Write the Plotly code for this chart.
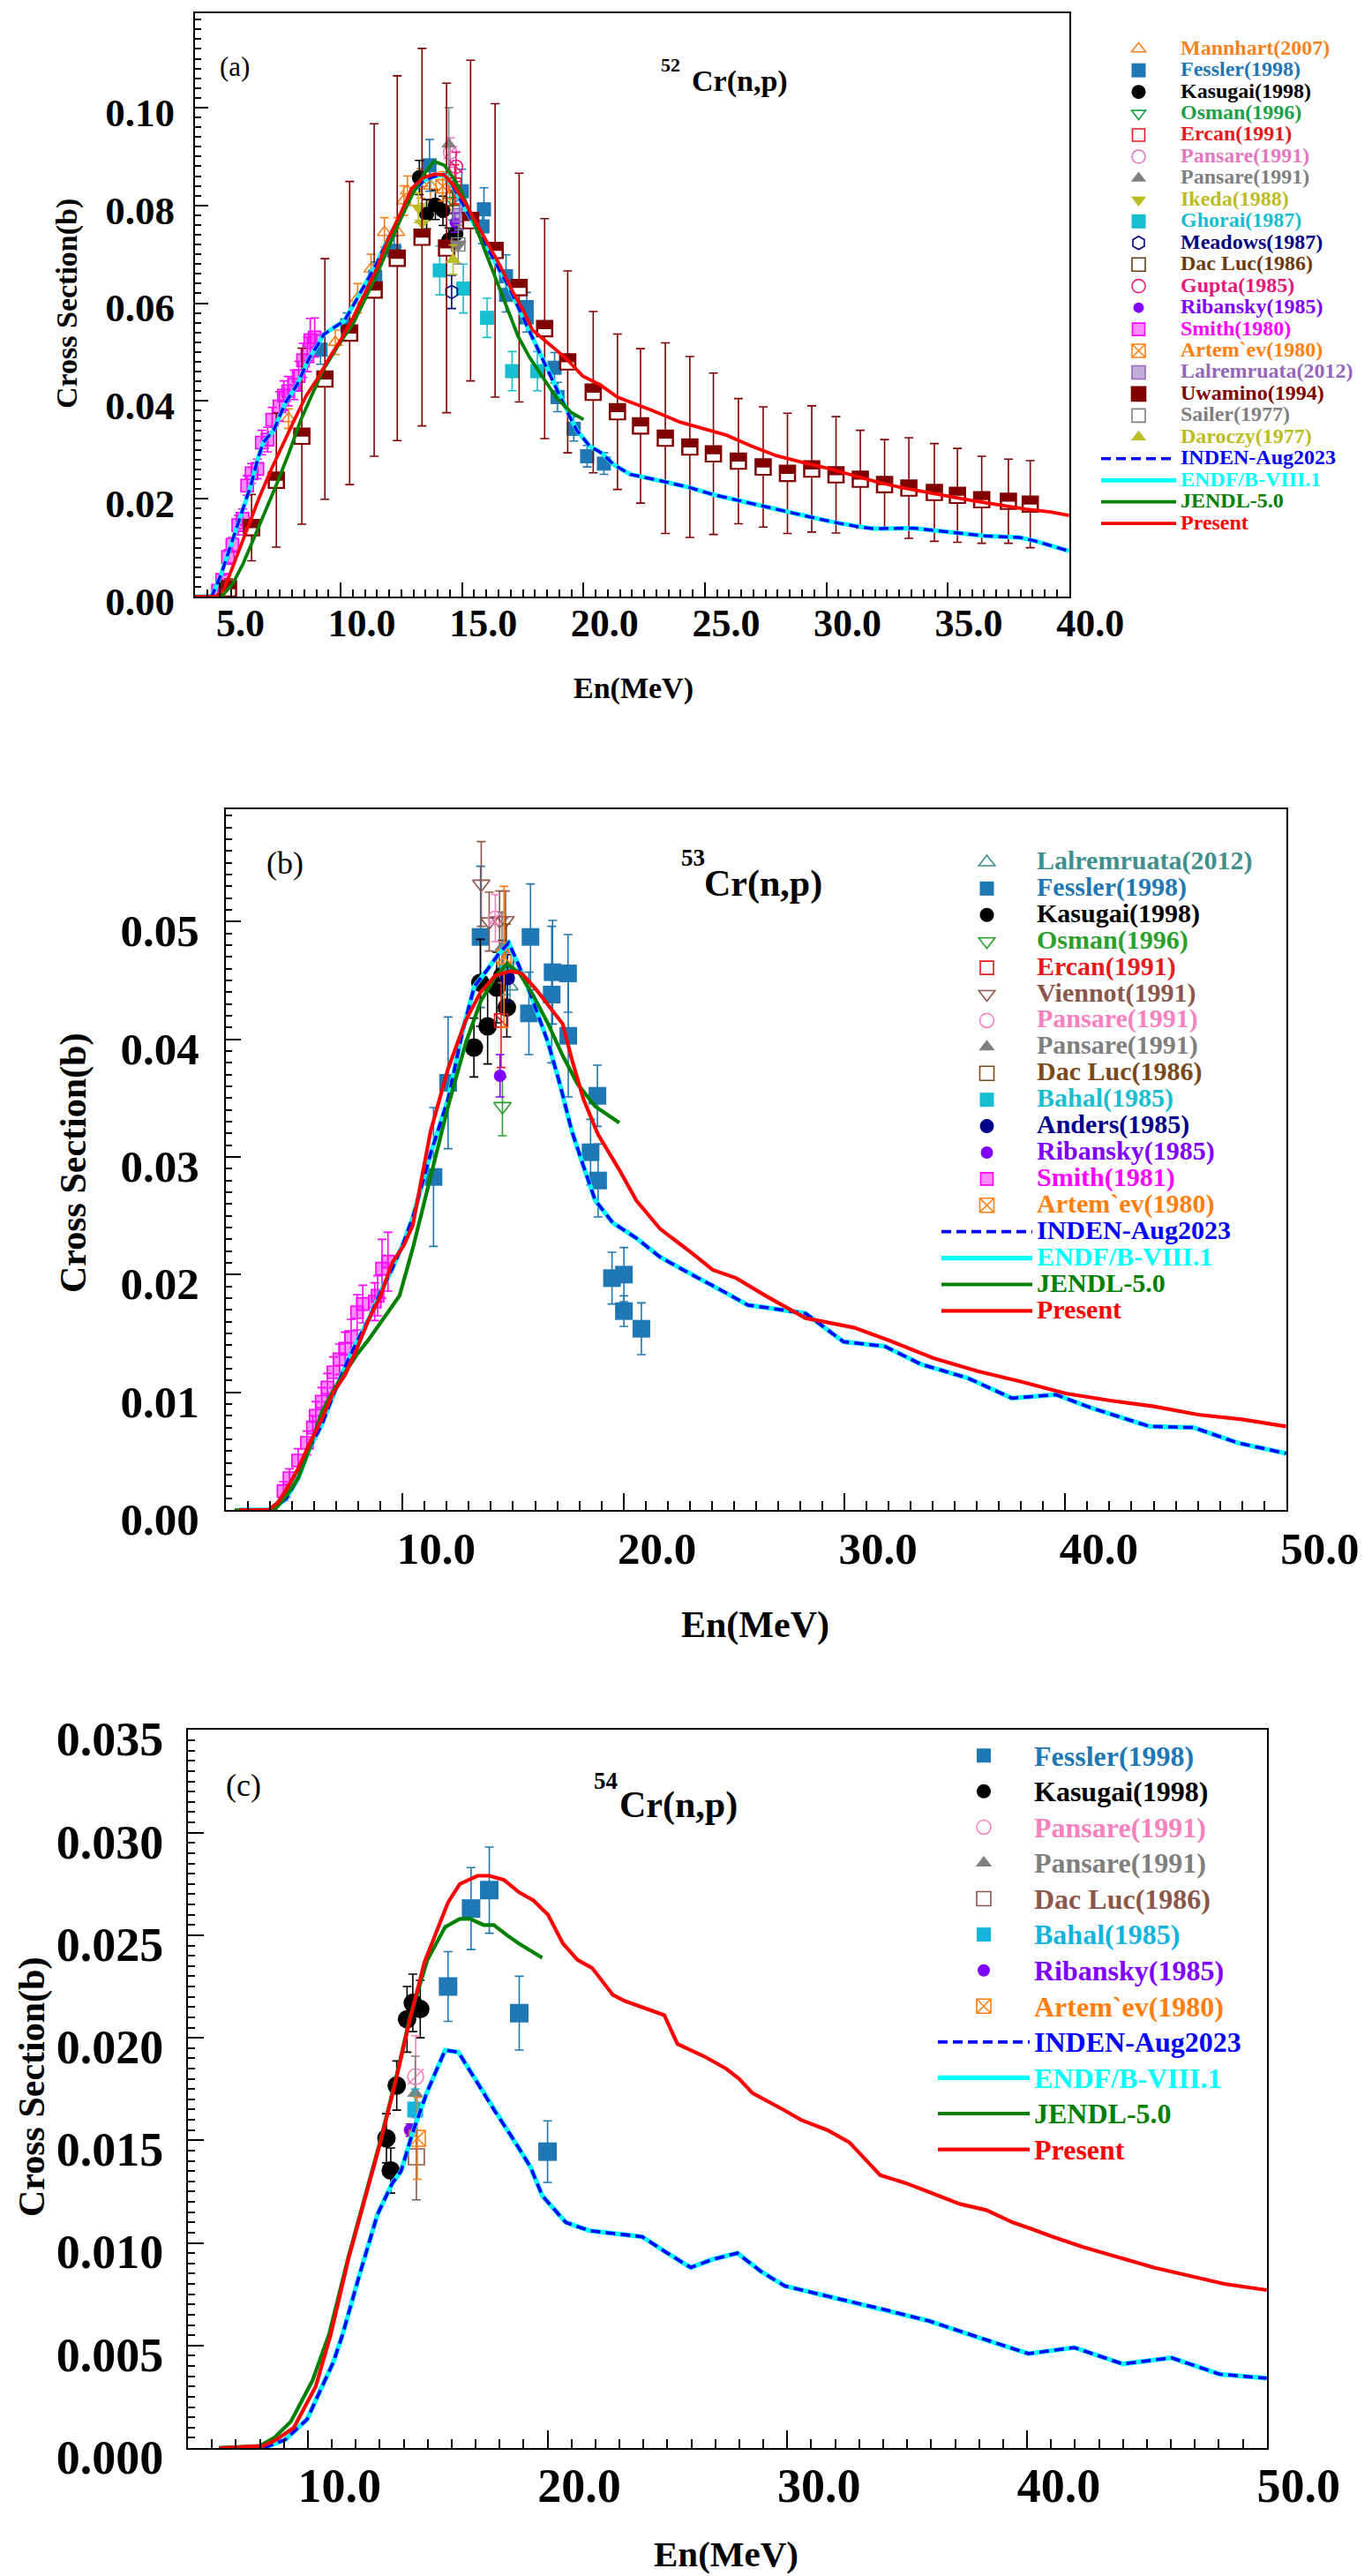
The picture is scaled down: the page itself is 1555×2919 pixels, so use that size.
import plotly.graph_objects as go

W, H = 1555, 2919
FONT = "Liberation Serif"

# ======================= Panel (a) 52Cr(n,p) =======================
a_mannhart_e = [7.85, 9.78, 10.7, 11.25, 11.8, 12.35, 12.6, 12.75, 13.3, 13.7, 14.5]
a_mannhart_s = [0.0364, 0.052, 0.061, 0.067, 0.0745, 0.0745, 0.081, 0.083, 0.0845, 0.084, 0.082]
a_mannhart_d = [0.002, 0.0025, 0.003, 0.003, 0.003, 0.003, 0.003, 0.003, 0.003, 0.003, 0.003]

a_fessler_e = [9.17, 10.27, 11.42, 12.2, 13.66, 14.99, 15.84, 15.9, 16.81, 16.81, 17.66, 17.66, 18.81, 18.93, 19.6, 20.15, 20.84]
a_fessler_s = [0.0505, 0.0555, 0.0654, 0.0707, 0.0882, 0.0829, 0.0757, 0.0792, 0.0655, 0.0617, 0.0592, 0.0571, 0.0468, 0.0408, 0.0343, 0.0287, 0.0272]
a_fessler_d = [0.003, 0.0025, 0.003, 0.003, 0.0053, 0.0045, 0.0035, 0.0044, 0.0044, 0.0035, 0.003, 0.003, 0.0031, 0.003, 0.0025, 0.0022, 0.0022]

a_kasugai_e = [13.24, 13.54, 13.9, 14.21, 14.45, 14.75]
a_kasugai_s = [0.0857, 0.0782, 0.0801, 0.0789, 0.0729, 0.0742]
a_kasugai_d = [0.0035, 0.003, 0.003, 0.003, 0.0025, 0.003]

a_osman_e, a_osman_s, a_osman_d = [14.6], [0.081], [0.004]
a_ercan_e, a_ercan_s, a_ercan_d = [14.7], [0.0843], [0.004]
a_pansare1_e, a_pansare1_s, a_pansare1_d = [14.51], [0.0908], [0.003]
a_pansare2_e, a_pansare2_s, a_pansare2_d = [14.45], [0.0925], [0.0075]
a_ikeda_e, a_ikeda_s, a_ikeda_d = [13.2, 13.35], [0.0795, 0.0764], [0.003, 0.004]
a_ghorai_e = [14.08, 15.05, 16.03, 17.06, 18.1]
a_ghorai_s = [0.0667, 0.063, 0.057, 0.0461, 0.0461]
a_ghorai_d = [0.005, 0.005, 0.004, 0.004, 0.004]
a_meadows_e, a_meadows_s, a_meadows_d = [14.57], [0.0623], [0.0034]
a_dacluc_e, a_dacluc_s, a_dacluc_d = [14.63], [0.0813], [0.003]
a_gupta_e, a_gupta_s, a_gupta_d = [14.75], [0.0879], [0.003]
a_ribansky_e, a_ribansky_s, a_ribansky_d = [14.7], [0.0765], [0.002]
a_smith_e = [4.95, 5.12, 5.36, 5.54, 5.78, 5.96, 6.15, 6.33, 6.57, 6.75, 6.99, 7.18, 7.48, 7.66, 7.84, 8.08, 8.27, 8.45, 8.63, 8.75, 8.93]
a_smith_s = [0.0012, 0.0034, 0.0081, 0.0106, 0.0146, 0.0159, 0.0227, 0.0252, 0.0261, 0.0315, 0.0321, 0.0362, 0.0389, 0.0411, 0.042, 0.0433, 0.0451, 0.0483, 0.0495, 0.0524, 0.053]
a_smith_d = [0.001, 0.001, 0.0015, 0.0015, 0.002, 0.002, 0.002, 0.002, 0.002, 0.0025, 0.0025, 0.0025, 0.003, 0.003, 0.003, 0.003, 0.003, 0.0035, 0.0035, 0.0045, 0.004]
a_artemev_e, a_artemev_s, a_artemev_d = [14.2], [0.0839], [0.003]
a_lalrem_e, a_lalrem_s, a_lalrem_d = [14.9], [0.078], [0.003]
a_uwamino_e = [5.38, 6.33, 7.35, 8.4, 9.35, 10.37, 11.38, 12.33, 13.35, 14.36, 15.35, 16.36, 17.35, 18.4, 19.35, 20.4, 21.4,
               22.35, 23.37, 24.38, 25.35, 26.38, 27.4, 28.4, 29.4, 30.4, 31.4, 32.4, 33.4, 34.45, 35.4, 36.4, 37.5, 38.4]
a_uwamino_s = [0.0016, 0.0141, 0.0238, 0.0328, 0.0445, 0.0539, 0.0627, 0.0692, 0.0735, 0.0713, 0.0769, 0.0708, 0.0632, 0.0548, 0.048, 0.0418, 0.0378,
               0.0349, 0.0324, 0.0306, 0.0292, 0.0277, 0.0265, 0.0252, 0.0261, 0.0249, 0.024, 0.0229, 0.0222, 0.0213, 0.0207, 0.0198, 0.0195, 0.0189]
a_uwamino_d = [0.002, 0.0068, 0.0137, 0.018, 0.0246, 0.031, 0.034, 0.0373, 0.0386, 0.0337, 0.0328, 0.03, 0.0234, 0.0225, 0.0186, 0.0165, 0.0159,
               0.0158, 0.0195, 0.0185, 0.0165, 0.0128, 0.0123, 0.0123, 0.0129, 0.0119, 0.01, 0.0092, 0.0103, 0.01, 0.0096, 0.0089, 0.0086, 0.0089]
a_sailer_e, a_sailer_s, a_sailer_d = [14.84], [0.072], [0.004]
a_daroczy_e, a_daroczy_s, a_daroczy_d = [14.63], [0.0689], [0.003]

a_inden_e = [4.0, 4.69, 5.08, 5.42, 5.9, 6.33, 6.57, 6.81, 7.24, 7.72, 8.2, 8.69, 9.05, 9.3, 9.78, 10.15, 10.57, 11.0, 11.48, 11.96,
             12.45, 12.93, 13.42, 13.9, 14.27, 14.63, 14.99, 15.48, 15.97, 16.45, 16.94, 17.42, 17.9, 18.39, 18.87, 19.36, 19.72, 20.25, 20.76, 21.27,
             21.92, 23.33, 24.36, 25.38, 26.4, 27.44, 28.46, 29.49, 30.51, 31.41, 31.93, 32.56, 33.59, 34.49, 35.51, 36.54, 37.95, 38.58, 40.0]
a_inden_s = [0.0, 0.0, 0.0046, 0.0097, 0.0165, 0.0232, 0.0279, 0.0315, 0.034, 0.0396, 0.0433, 0.0486, 0.0514, 0.0536, 0.0552, 0.0564, 0.06, 0.0639, 0.0681, 0.0732,
             0.0776, 0.0826, 0.0851, 0.086, 0.0863, 0.0838, 0.0807, 0.0763, 0.072, 0.0676, 0.0632, 0.058, 0.053, 0.048, 0.0427, 0.0375, 0.034, 0.0308, 0.0293, 0.0269,
             0.025, 0.0235, 0.0223, 0.0208, 0.0196, 0.0184, 0.0173, 0.0161, 0.015, 0.0142, 0.0139, 0.0139, 0.014, 0.0135, 0.0129, 0.0124, 0.0121, 0.0114, 0.0093]
a_endf_e = a_inden_e
a_endf_s = a_inden_s
a_jendl_e = [4.0, 5.1, 5.56, 5.96, 6.39, 6.88, 7.38, 7.87, 8.35, 8.84, 9.3, 9.9, 10.51, 11.0, 11.48, 11.96, 12.45, 12.93, 13.42, 13.84,
             14.27, 14.63, 14.99, 15.36, 15.84, 16.33, 16.81, 17.3, 17.78, 18.27, 18.87, 19.48, 20.0]
a_jendl_s = [0.0, 0.0, 0.0027, 0.0065, 0.0115, 0.0171, 0.0232, 0.0294, 0.036, 0.0415, 0.0465, 0.0514, 0.0558, 0.0608, 0.0658, 0.0713, 0.077, 0.082, 0.0863, 0.089,
             0.0882, 0.0857, 0.0826, 0.0782, 0.072, 0.0658, 0.0595, 0.0533, 0.0489, 0.0452, 0.0408, 0.0377, 0.0362]
a_present_e = [4.0, 4.85, 5.2, 5.68, 6.17, 6.65, 7.14, 7.6, 8.08, 8.57, 9.05, 9.54, 10.03, 10.51, 11.0, 11.48, 11.96, 12.45, 12.93, 13.42,
               13.9, 14.27, 14.63, 15.11, 15.6, 16.08, 16.57, 17.06, 17.54, 17.9, 18.51, 19.24, 19.97, 20.69, 21.4, 22.82, 23.96, 24.87, 25.89, 26.9,
               27.95, 28.97, 30.0, 31.02, 32.05, 33.08, 34.1, 35.13, 36.15, 37.18, 38.2, 39.24, 40.0]
a_present_s = [0.0, 0.0, 0.0015, 0.0078, 0.0141, 0.0203, 0.026, 0.031, 0.036, 0.041, 0.0446, 0.0489, 0.0527, 0.057, 0.062, 0.067, 0.0732, 0.0782, 0.0835, 0.0857,
               0.0864, 0.0862, 0.0841, 0.0807, 0.0763, 0.072, 0.0676, 0.0626, 0.0583, 0.0545, 0.052, 0.0489, 0.0451, 0.0433, 0.0408, 0.0381, 0.0357, 0.0344, 0.033, 0.0308,
               0.0288, 0.0275, 0.0263, 0.0249, 0.0235, 0.0223, 0.0213, 0.0204, 0.0195, 0.0187, 0.0179, 0.0173, 0.0166]

# ======================= Panel (b) 53Cr(n,p) =======================
b_lalrem_e, b_lalrem_s, b_lalrem_d = [14.86], [0.0445], [0.002]
b_fessler_e = [11.4, 12.06, 13.53, 15.72, 15.79, 16.75, 16.79, 17.49, 17.5, 18.51, 18.82, 18.85, 19.48, 20.02, 20.02, 20.81]
b_fessler_s = [0.0283, 0.0363, 0.0487, 0.0422, 0.0487, 0.0438, 0.0457, 0.0456, 0.0403, 0.0304, 0.0352, 0.028, 0.0197, 0.02, 0.0169, 0.0154]
b_fessler_d = [0.0059, 0.0056, 0.006, 0.0035, 0.0045, 0.0058, 0.0044, 0.0033, 0.0052, 0.0028, 0.0026, 0.0031, 0.0022, 0.0023, 0.0013, 0.0022]
b_kasugai_e = [13.23, 13.52, 13.85, 14.26, 14.52, 14.72]
b_kasugai_s = [0.0393, 0.0448, 0.0411, 0.0444, 0.0454, 0.0427]
b_kasugai_d = [0.0025, 0.0037, 0.0032, 0.003, 0.003, 0.0025]
b_osman_e, b_osman_s, b_osman_d = [14.52], [0.0343], [0.0025]
b_ercan_e, b_ercan_s, b_ercan_d = [14.46], [0.0416], [0.004]
b_viennot_e = [13.56, 13.92, 14.39, 14.66]
b_viennot_s = [0.0532, 0.05, 0.0501, 0.0501]
b_viennot_d = [0.0036, 0.0025, 0.0025, 0.0025]
b_pansare1_e, b_pansare1_s, b_pansare1_d = [14.2], [0.0503], [0.002]
b_pansare2_e, b_pansare2_s, b_pansare2_d = [14.5], [0.0478], [0.003]
b_dacluc_e, b_dacluc_s, b_dacluc_d = [14.7], [0.0468], [0.003]
b_bahal_e, b_bahal_s, b_bahal_d = [14.7], [0.0458], [0.002]
b_anders_e, b_anders_s, b_anders_d = [14.75], [0.0452], [0.002]
b_ribansky_e, b_ribansky_s, b_ribansky_d = [14.41], [0.0369], [0.0018]
b_smith_e = [4.61, 4.88, 5.27, 5.67, 5.94, 6.07, 6.34, 6.6, 6.87, 7.14, 7.4, 7.67, 7.94, 8.2, 8.74, 8.87, 9.07, 9.34]
b_smith_s = [0.0016, 0.0027, 0.0042, 0.0057, 0.007, 0.008, 0.0092, 0.0104, 0.0117, 0.0128, 0.0137, 0.0147, 0.0168, 0.0175, 0.0177, 0.0182, 0.0205, 0.0211]
b_smith_d = [0.0008, 0.0008, 0.001, 0.001, 0.001, 0.0012, 0.0012, 0.0012, 0.0013, 0.0013, 0.0014, 0.0015, 0.0015, 0.0016, 0.0016, 0.0017, 0.0025, 0.0025]
b_artemev_e, b_artemev_s, b_artemev_d = [14.59], [0.047], [0.006]

b_inden_e = [2.6, 4.08, 4.74, 5.27, 5.8, 6.33, 6.87, 7.4, 7.93, 8.47, 9.0, 9.53, 10.06, 10.47, 11.27, 12.06, 12.73, 13.25, 13.79, 14.33,
             14.8, 15.12, 15.66, 16.19, 16.59, 17.12, 17.66, 18.19, 18.72, 19.52, 20.58, 21.65, 22.98, 24.31, 25.64, 26.44, 28.24, 29.96, 31.83, 33.45,
             35.6, 37.58, 39.57, 41.13, 41.82, 43.81, 45.81, 47.81, 50.0]
b_inden_s = [0.0, 0.0, 0.001, 0.0027, 0.0053, 0.0072, 0.0098, 0.0122, 0.0143, 0.0162, 0.0185, 0.0205, 0.0228, 0.0249, 0.0303, 0.0349, 0.0408, 0.0445, 0.0458, 0.0472,
             0.0482, 0.0469, 0.0445, 0.0418, 0.0397, 0.0362, 0.0322, 0.0292, 0.0263, 0.0244, 0.0231, 0.0215, 0.0201, 0.0188, 0.0174, 0.0172, 0.0167, 0.0143, 0.0139, 0.0124,
             0.0112, 0.0095, 0.0098, 0.0087, 0.0083, 0.0071, 0.007, 0.0057, 0.0048]
b_endf_e = b_inden_e
b_endf_s = b_inden_s
b_jendl_e = [2.4, 4.2, 4.74, 5.27, 5.8, 6.34, 6.87, 7.4, 7.93, 8.47, 9.13, 9.86, 10.47, 11.27, 12.06, 12.86, 13.53, 14.19, 14.72, 15.26,
             15.92, 16.59, 17.25, 17.92, 18.72, 19.81]
b_jendl_s = [0.0, 0.0, 0.0012, 0.0027, 0.0053, 0.0083, 0.0102, 0.0117, 0.0132, 0.0145, 0.0162, 0.0182, 0.0223, 0.0284, 0.0343, 0.0397, 0.0432, 0.0453, 0.0464, 0.0457,
             0.0437, 0.0413, 0.0386, 0.0362, 0.0343, 0.0329]
b_present_e = [2.6, 3.94, 4.34, 4.73, 5.27, 5.8, 6.34, 6.87, 7.4, 7.93, 8.47, 9.0, 9.53, 10.06, 10.46, 11.27, 12.06, 12.86, 13.53, 14.19,
               14.86, 15.39, 16.06, 16.72, 17.25, 17.66, 18.19, 18.85, 19.78, 20.58, 21.65, 22.98, 24.04, 25.11, 26.44, 28.24, 30.43, 32.03, 34.03, 36.03,
               38.02, 40.02, 42.02, 44.0, 46.01, 48.0, 50.0]
b_present_s = [0.0, 0.0, 0.0006, 0.0017, 0.0035, 0.0057, 0.0077, 0.01, 0.0115, 0.0137, 0.0162, 0.0182, 0.021, 0.0225, 0.0242, 0.0322, 0.0375, 0.0416, 0.044, 0.0454,
               0.0458, 0.0456, 0.0442, 0.0426, 0.0413, 0.0383, 0.0349, 0.0319, 0.029, 0.0263, 0.0239, 0.022, 0.0204, 0.0197, 0.0182, 0.0163, 0.0155, 0.0144, 0.0129, 0.0118,
               0.0109, 0.0099, 0.0093, 0.0088, 0.0081, 0.0077, 0.0071]

# ======================= Panel (c) 54Cr(n,p) =======================
c_fessler_e = [15.85, 16.81, 17.57, 18.82, 20.0]
c_fessler_s = [0.0225, 0.0263, 0.0272, 0.0212, 0.01445]
c_fessler_d = [0.0017, 0.002, 0.0021, 0.0018, 0.0015]
c_kasugai_e = [13.28, 13.46, 13.71, 14.14, 14.38, 14.69]
c_kasugai_s = [0.0151, 0.01353, 0.01767, 0.0209, 0.0217, 0.0214]
c_kasugai_d = [0.0012, 0.0011, 0.0012, 0.0016, 0.0014, 0.0014]
c_pansare1_e, c_pansare1_s, c_pansare1_d = [14.5], [0.0181], [0.002]
c_pansare2_e, c_pansare2_s, c_pansare2_d = [14.48], [0.0173], [0.0018]
c_dacluc_e, c_dacluc_s, c_dacluc_d = [14.53], [0.0142], [0.0021]
c_bahal_e, c_bahal_s, c_bahal_d = [14.48], [0.0165], [0.001]
c_ribansky_e, c_ribansky_s, c_ribansky_d = [14.26], [0.0155], [0.0003]
c_artemev_e, c_artemev_s, c_artemev_d = [14.57], [0.0151], [0.002]

c_inden_e = [6.3, 8.13, 9.05, 9.97, 11.07, 11.44, 12.17, 12.91, 13.52, 13.89, 14.38, 14.99, 15.36, 15.73, 16.28, 17.08, 17.81, 18.55, 19.29, 19.78,
             20.76, 21.74, 23.21, 23.95, 24.87, 25.97, 26.89, 27.92, 28.91, 29.9, 32.04, 33.88, 35.9, 37.93, 39.03, 40.06, 41.97, 43.99, 46.02, 48.04, 50.0]
c_inden_s = [0.0, 0.0, 0.0004, 0.0014, 0.0042, 0.0055, 0.0085, 0.0114, 0.0129, 0.0135, 0.0154, 0.0174, 0.0184, 0.0194, 0.0193, 0.0178, 0.0164, 0.0151, 0.0137, 0.0123,
             0.011, 0.0106, 0.0104, 0.0103, 0.0096, 0.0088, 0.0092, 0.0095, 0.0086, 0.0079, 0.0073, 0.0068, 0.0062, 0.0054, 0.005, 0.0046, 0.0049, 0.0041, 0.0044, 0.0036, 0.0034]
c_endf_e = c_inden_e
c_endf_s = c_inden_s
c_jendl_e = [6.3, 8.0, 8.6, 9.3, 10.2, 10.9, 11.69, 12.42, 13.03, 13.65, 14.26, 14.99, 15.36, 15.73, 16.34, 16.77, 17.33, 17.76, 18.31, 18.8, 19.78]
c_jendl_s = [0.0, 0.0001, 0.0005, 0.0013, 0.0033, 0.0056, 0.0093, 0.0124, 0.015, 0.0179, 0.021, 0.0238, 0.0246, 0.0254, 0.0258, 0.0258, 0.0255, 0.0255, 0.025, 0.0246, 0.0239]
c_present_e = [6.3, 8.13, 8.68, 9.42, 10.33, 10.95, 11.69, 12.42, 13.03, 13.65, 14.26, 14.87, 15.36, 15.85, 16.34, 17.08, 17.57, 18.18, 18.8, 19.41,
               20.02, 20.64, 21.25, 21.86, 22.72, 23.21, 24.87, 25.42, 26.52, 27.44, 27.99, 28.55, 29.83, 30.57, 31.67, 32.59, 33.88, 34.98, 36.09, 37.19,
               38.3, 39.4, 40.14, 41.06, 42.34, 43.82, 45.29, 46.76, 48.23, 50.0]
c_present_s = [0.0, 0.0001, 0.0004, 0.001, 0.003, 0.0055, 0.0092, 0.0123, 0.0149, 0.0178, 0.0209, 0.0237, 0.0252, 0.0266, 0.0275, 0.0279, 0.0279, 0.0277, 0.0271, 0.0267,
               0.026, 0.0246, 0.0238, 0.0234, 0.0221, 0.0218, 0.0211, 0.0197, 0.0191, 0.0185, 0.018, 0.0173, 0.0165, 0.016, 0.0155, 0.0149, 0.0133, 0.0129, 0.0124, 0.0119,
               0.0116, 0.011, 0.0107, 0.0103, 0.0098, 0.0093, 0.0088, 0.0084, 0.008, 0.0077]

# ======================= figure =======================
fig = go.Figure()


def dom_x(l, r):
    return [l / W, r / W]


def dom_y(t, b):
    return [1 - b / H, 1 - t / H]


def add_points(panel, legend, rank, name, color, E, S, D, symbol, size, fs,
               fill=None, lw=1.6, overlay=None, half=False):
    xa, ya = panel
    mk = dict(symbol=symbol, size=size, color=fill if fill else color,
              line=dict(color=color, width=lw))
    fig.add_trace(go.Scatter(
        x=E, y=S, mode="markers", xaxis=xa, yaxis=ya, legend=legend, legendrank=rank,
        name=f'<span style="color:{color};font-size:{fs}px">{name}</span>',
        marker=mk,
        error_y=dict(type="data", array=D, visible=True, color=color, thickness=1.6, width=5),
    ))
    if overlay:
        fig.add_trace(go.Scatter(
            x=E, y=S, mode="markers", xaxis=xa, yaxis=ya, showlegend=False, hoverinfo="skip",
            marker=dict(symbol=overlay, size=size, color=color, line=dict(color=color, width=lw)),
        ))
    if half:
        # white upper half inside the square (half-filled look)
        fig.add_trace(go.Scatter(
            x=E, y=S, mode="markers", xaxis=xa, yaxis=ya, showlegend=False, hoverinfo="skip",
            marker=dict(symbol="line-ew", size=size * 0.58, color="white", angle=0.001,
                        standoff=size * 0.23, line=dict(color="white", width=size * 0.4)),
        ))


def add_lines(panel, legend, rank0, fs, data, widths):
    xa, ya = panel
    (ie, isg), (ee, es), (je, js), (pe, ps) = data
    specs = [
        ("ENDF/B-VIII.1", "#00FFFF", ee, es, "solid", widths[0] + 1.5, 1),
        ("INDEN-Aug2023", "#0000FF", ie, isg, "11px,6px", widths[0], 0),
        ("JENDL-5.0", "#008000", je, js, "solid", widths[1], 2),
        ("Present", "#FF0000", pe, ps, "solid", widths[1], 3),
    ]
    for name, col, e, s, dash, w, k in specs:
        fig.add_trace(go.Scatter(
            x=e, y=s, mode="lines", xaxis=xa, yaxis=ya, legend=legend, legendrank=rank0 + k,
            name=f'<span style="color:{col};font-size:{fs}px">{name}</span>',
            line=dict(color=col, width=w, dash=dash),
        ))


# ---- panel a points
PA = ("x", "y")
FSA = 24
a_items = [
    ("Mannhart(2007)", "#F5821F", a_mannhart_e, a_mannhart_s, a_mannhart_d, "triangle-up-open", 14, dict()),
    ("Fessler(1998)", "#1F77B4", a_fessler_e, a_fessler_s, a_fessler_d, "square", 16, dict(lw=0)),
    ("Kasugai(1998)", "#000000", a_kasugai_e, a_kasugai_s, a_kasugai_d, "circle", 17, dict(lw=0)),
    ("Osman(1996)", "#1BA14A", a_osman_e, a_osman_s, a_osman_d, "triangle-down-open", 14, dict()),
    ("Ercan(1991)", "#E41A1C", a_ercan_e, a_ercan_s, a_ercan_d, "square-open", 14, dict(overlay="line-nw-open")),
    ("Pansare(1991)", "#E377C2", a_pansare1_e, a_pansare1_s, a_pansare1_d, "circle-open", 15, dict(overlay="line-ne-open")),
    ("Pansare(1991)", "#7F7F7F", a_pansare2_e, a_pansare2_s, a_pansare2_d, "triangle-up", 15, dict(lw=0)),
    ("Ikeda(1988)", "#BCBD22", a_ikeda_e, a_ikeda_s, a_ikeda_d, "triangle-down", 15, dict(lw=0)),
    ("Ghorai(1987)", "#17BECF", a_ghorai_e, a_ghorai_s, a_ghorai_d, "square", 16, dict(lw=0)),
    ("Meadows(1987)", "#000080", a_meadows_e, a_meadows_s, a_meadows_d, "hexagon-open", 15, dict()),
    ("Dac Luc(1986)", "#6E3B0E", a_dacluc_e, a_dacluc_s, a_dacluc_d, "square-open", 15, dict()),
    ("Gupta(1985)", "#E6197A", a_gupta_e, a_gupta_s, a_gupta_d, "circle-open", 15, dict(overlay="line-nw-open")),
    ("Ribansky(1985)", "#7F00FF", a_ribansky_e, a_ribansky_s, a_ribansky_d, "circle", 12, dict(lw=0)),
    ("Smith(1980)", "#FF00FF", a_smith_e, a_smith_s, a_smith_d, "square", 14, dict(fill="rgba(255,0,255,0.45)")),
    ("Artem`ev(1980)", "#FF7F0E", a_artemev_e, a_artemev_s, a_artemev_d, "square-x-open", 15, dict()),
    ("Lalremruata(2012)", "#9467BD", a_lalrem_e, a_lalrem_s, a_lalrem_d, "square", 15, dict(fill="rgba(148,103,189,0.55)")),
    ("Uwamino(1994)", "#800000", a_uwamino_e, a_uwamino_s, a_uwamino_d, "square", 18, dict(half=True)),
    ("Sailer(1977)", "#7F7F7F", a_sailer_e, a_sailer_s, a_sailer_d, "square-open", 15, dict(overlay="triangle-down")),
    ("Daroczy(1977)", "#BCBD22", a_daroczy_e, a_daroczy_s, a_daroczy_d, "triangle-up", 15, dict(lw=0)),
]
for i, (nm, col, e, s, d, sym, sz, kw) in enumerate(a_items):
    add_points(PA, "legend", i, nm, col, e, s, d, sym, sz, FSA, **kw)
add_lines(PA, "legend", 100, FSA,
          [(a_inden_e, a_inden_s), (a_endf_e, a_endf_s), (a_jendl_e, a_jendl_s), (a_present_e, a_present_s)],
          (3.5, 3.8))

# ---- panel b points
PB = ("x2", "y2")
FSB = 30
b_items = [
    ("Lalremruata(2012)", "#3F8F8F", b_lalrem_e, b_lalrem_s, b_lalrem_d, "triangle-up-open", 16, dict()),
    ("Fessler(1998)", "#1F77B4", b_fessler_e, b_fessler_s, b_fessler_d, "square", 20, dict(lw=0)),
    ("Kasugai(1998)", "#000000", b_kasugai_e, b_kasugai_s, b_kasugai_d, "circle", 21, dict(lw=0)),
    ("Osman(1996)", "#2CA02C", b_osman_e, b_osman_s, b_osman_d, "triangle-down-open", 17, dict()),
    ("Ercan(1991)", "#E41A1C", b_ercan_e, b_ercan_s, b_ercan_d, "square-open", 15, dict(overlay="line-nw-open")),
    ("Viennot(1991)", "#8C564B", b_viennot_e, b_viennot_s, b_viennot_d, "triangle-down-open", 17, dict()),
    ("Pansare(1991)", "#F781BF", b_pansare1_e, b_pansare1_s, b_pansare1_d, "circle-open", 16, dict(overlay="line-ne-open")),
    ("Pansare(1991)", "#7F7F7F", b_pansare2_e, b_pansare2_s, b_pansare2_d, "triangle-up", 16, dict(lw=0)),
    ("Dac Luc(1986)", "#7A4A1A", b_dacluc_e, b_dacluc_s, b_dacluc_d, "square-open", 16, dict()),
    ("Bahal(1985)", "#17BECF", b_bahal_e, b_bahal_s, b_bahal_d, "square", 16, dict(lw=0)),
    ("Anders(1985)", "#00008B", b_anders_e, b_anders_s, b_anders_d, "circle", 17, dict(lw=0)),
    ("Ribansky(1985)", "#7F00FF", b_ribansky_e, b_ribansky_s, b_ribansky_d, "circle", 14, dict(lw=0)),
    ("Smith(1981)", "#FF00FF", b_smith_e, b_smith_s, b_smith_d, "square", 14, dict(fill="rgba(255,0,255,0.45)")),
    ("Artem`ev(1980)", "#FF7F0E", b_artemev_e, b_artemev_s, b_artemev_d, "square-x-open", 16, dict()),
]
for i, (nm, col, e, s, d, sym, sz, kw) in enumerate(b_items):
    add_points(PB, "legend2", i, nm, col, e, s, d, sym, sz, FSB, **kw)
add_lines(PB, "legend2", 100, FSB,
          [(b_inden_e, b_inden_s), (b_endf_e, b_endf_s), (b_jendl_e, b_jendl_s), (b_present_e, b_present_s)],
          (3.8, 4.2))

# ---- panel c points
PC = ("x3", "y3")
FSC = 32
c_items = [
    ("Fessler(1998)", "#1F77B4", c_fessler_e, c_fessler_s, c_fessler_d, "square", 21, dict(lw=0)),
    ("Kasugai(1998)", "#000000", c_kasugai_e, c_kasugai_s, c_kasugai_d, "circle", 21, dict(lw=0)),
    ("Pansare(1991)", "#F781BF", c_pansare1_e, c_pansare1_s, c_pansare1_d, "circle-open", 18, dict(overlay="line-ne-open")),
    ("Pansare(1991)", "#7F7F7F", c_pansare2_e, c_pansare2_s, c_pansare2_d, "triangle-up", 16, dict(lw=0)),
    ("Dac Luc(1986)", "#8C564B", c_dacluc_e, c_dacluc_s, c_dacluc_d, "square-open", 18, dict()),
    ("Bahal(1985)", "#14B4DC", c_bahal_e, c_bahal_s, c_bahal_d, "square", 18, dict(lw=0)),
    ("Ribansky(1985)", "#7F00FF", c_ribansky_e, c_ribansky_s, c_ribansky_d, "circle", 14, dict(lw=0)),
    ("Artem`ev(1980)", "#FF7F0E", c_artemev_e, c_artemev_s, c_artemev_d, "square-x-open", 18, dict()),
]
for i, (nm, col, e, s, d, sym, sz, kw) in enumerate(c_items):
    add_points(PC, "legend3", i, nm, col, e, s, d, sym, sz, FSC, **kw)
add_lines(PC, "legend3", 100, FSC,
          [(c_inden_e, c_inden_s), (c_endf_e, c_endf_s), (c_jendl_e, c_jendl_s), (c_present_e, c_present_s)],
          (3.8, 4.2))


# ---- axes
def axis(dom, rng, anchor, dtick, fmt, shift, standoff, fsize, tlen, mdtick, mlen):
    return dict(
        domain=dom, range=rng, anchor=anchor, dtick=dtick, tick0=0, tickformat=fmt,
        ticklabelshift=shift, ticklabelstandoff=standoff, automargin=False,
        showline=True, linecolor="black", linewidth=2, mirror=True,
        ticks="inside", ticklen=tlen, tickwidth=2, tickcolor="black",
        showgrid=False, zeroline=False,
        tickfont=dict(family=FONT, size=fsize, color="black", weight="bold"),
        minor=dict(ticks="inside", dtick=mdtick, ticklen=mlen, tickwidth=1.5, tickcolor="black", showgrid=False),
    )


def legend_box(xpx, ytop, f0, iw):
    return dict(x=xpx / W, y=1 - ytop / H, xanchor="left", yanchor="top",
                bgcolor="rgba(0,0,0,0)", borderwidth=0, itemwidth=iw,
                traceorder="normal", tracegroupgap=0, itemsizing="trace",
                font=dict(family=FONT, size=f0, color="black", weight="bold"))


ann = []


def text(xpx, ypx, s, size, bold=True, angle=0):
    ann.append(dict(x=xpx / W, y=1 - ypx / H, xref="paper", yref="paper", text=s, showarrow=False,
                    xanchor="center", yanchor="middle", textangle=angle,
                    font=dict(family=FONT, size=size, color="black", weight="bold" if bold else "normal")))


text(258, 67, "(a)", 31, bold=False)
text(752, 65, "52", 22)
text(830, 84, "Cr(n,p)", 34)
text(710, 772, "En(MeV)", 34)
text(68, 336, "Cross Section(b)", 34, angle=-90)

text(315, 970, "(b)", 36, bold=False)
text(777, 964, "53", 27)
text(857, 993, "Cr(n,p)", 42)
text(848, 1833, "En(MeV)", 42)
text(75, 1310, "Cross Section(b)", 42, angle=-90)

text(268, 2015, "(c)", 36, bold=False)
text(678, 2010, "54", 27)
text(761, 2037, "Cr(n,p)", 42)
text(815, 2886, "En(MeV)", 41)
text(28, 2357, "Cross Section(b)", 42, angle=-90)

fig.update_layout(
    width=W, height=H, margin=dict(l=0, r=0, t=0, b=0, pad=0, autoexpand=False),
    paper_bgcolor="white", plot_bgcolor="white",
    font=dict(family=FONT),
    xaxis=axis(dom_x(213, 1204), [4, 40.01], "y", 5, ".1f", 24, -10, 44, 16, 0.5, 8),
    yaxis=axis(dom_y(7, 668), [0, 0.1193], "x", 0.02, ".2f", 5, 12, 45, 15, 0.002, 7),
    xaxis2=axis(dom_x(248, 1450), [2, 50.01], "y2", 10, ".1f", 38, -2, 51, 19, 1, 10),
    yaxis2=axis(dom_y(909, 1703), [0, 0.05955], "x2", 0.01, ".2f", 10, 18, 51, 17, 0.001, 7),
    xaxis3=axis(dom_x(205, 1428), [5, 50.01], "y3", 10, ".1f", 36, -6, 54, 20, 1, 10),
    yaxis3=axis(dom_y(1952, 2766), [0, 0.03502], "x3", 0.005, ".3f", 10, 15, 54, 18, 0.0005, 8),
    legend=legend_box(1235, 30, 16.5, 85),
    legend2=legend_box(1054, 949, 20.7, 103),
    legend3=legend_box(1050, 1956, 28.9, 104),
    annotations=ann,
    showlegend=True,
)

fig.write_html("out.html")
